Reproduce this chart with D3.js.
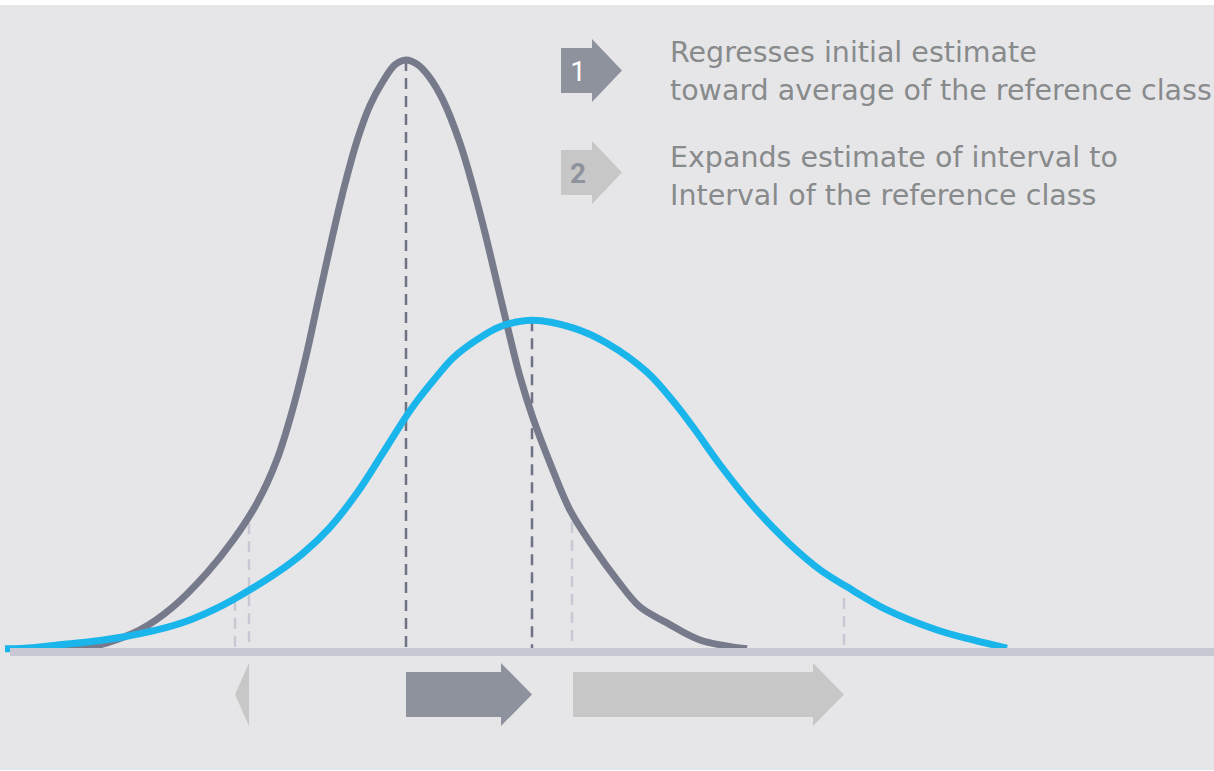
<!DOCTYPE html>
<html>
<head>
<meta charset="utf-8">
<script src="https://cdn.jsdelivr.net/npm/d3@7"></script>
<style>
  html, body { margin: 0; padding: 0; background: #ffffff; }
  svg { display: block; }
</style>
</head>
<body>
<svg id="chart" width="1214" height="771"></svg>
<script>
// Initial estimate distribution (narrow) — [value, density]
const estimateCurve = [
  [5.5, 0], [9.0, 0.5], [10.7, 1.2], [14.0, 3.4], [17.3, 7.3], [20.7, 13.1],
  [23.3, 18.6], [25.7, 24.9], [27.7, 32.3], [29.3, 41.0], [30.7, 50.5],
  [31.7, 58.3], [32.7, 66.0], [33.5, 72.0], [34.5, 79.0], [35.7, 86.3],
  [37.0, 92.3], [38.3, 96.4], [39.5, 99.2], [40.6, 100], [41.7, 99.3],
  [42.9, 97.2], [44.3, 93.2], [46.0, 85.9], [47.3, 78.5], [48.5, 70.7],
  [49.7, 62.2], [51.0, 53.0], [52.0, 46.3], [53.3, 39.3], [55.0, 31.7],
  [57.0, 23.7], [59.3, 17.5], [61.7, 11.9], [64.0, 7.3], [66.7, 4.6],
  [70.0, 1.7], [74.7, 0.2]
];

// Reference class distribution (wide) — [value, density]
const referenceCurve = [
  [0.5, 0.2], [3.3, 0.4], [6.7, 1.0], [9.0, 1.4], [12.3, 2.2], [15.7, 3.4],
  [19.0, 5.1], [22.3, 7.6], [25.0, 10.2], [27.7, 13.1], [30.3, 16.4],
  [33.0, 20.8], [35.7, 26.6], [38.3, 33.4], [40.5, 39.3], [41.7, 42.2],
  [43.3, 45.6], [45.3, 49.5], [47.7, 52.6], [50.0, 54.8], [53.3, 55.9],
  [57.3, 54.6], [60.7, 52.0], [64.7, 47.1], [67.3, 42.2], [69.3, 37.8],
  [72.0, 31.4], [75.3, 24.4], [78.7, 18.4], [82.0, 13.6], [84.7, 10.7],
  [88.7, 6.8], [93.7, 3.4], [97.3, 1.7], [100.7, 0.3]
];

// Means (dark dashed guides): [value, height]
const means = [[40.6, 100], [53.2, 55.9]];
// Interval bounds (light dashed guides): [value, height]
const bounds = [[23.5, 8.5], [24.9, 21.5], [57.2, 21.7], [84.4, 8.8]];

// Shift arrows under the axis: [from, to, kind]
const shifts = [[24.9, 23.5, "interval"], [40.6, 53.2, "mean"], [57.3, 84.4, "interval"]];

// Legend
const legendNumbers = ["1", "2"];
const legendKinds = ["mean", "interval"];
const legendLines = [
  ["Regresses initial estimate", "toward average of the reference class"],
  ["Expands estimate of interval to", "Interval of the reference class"]
];

const W = 1214, H = 771;
const svg = d3.select("#chart");

const x = d3.scaleLinear().domain([0, 120]).range([0, 1200]);
const y = d3.scaleLinear().domain([0, 100]).range([650, 60]);

const colors = {
  bg: "#e6e6e8",
  estimate: "#767a8a",
  reference: "#1ab5ea",
  axis: "#c8c8d4",
  meanGuide: "#6e7282",
  boundGuide: "#c8c8d4",
  mean: "#8e929c",
  interval: "#c7c7c7",
  text: "#888a8c"
};

svg.append("rect").attr("x", 0).attr("y", 5).attr("width", W).attr("height", H - 6)
  .attr("fill", colors.bg);

// dashed guides
svg.append("g").selectAll("line").data(bounds).join("line")
  .attr("x1", d => x(d[0])).attr("x2", d => x(d[0]))
  .attr("y1", d => y(d[1])).attr("y2", y(0))
  .attr("stroke", colors.boundGuide).attr("stroke-width", 2.5)
  .attr("stroke-dasharray", "11,7");

svg.append("g").selectAll("line").data(means).join("line")
  .attr("x1", d => x(d[0])).attr("x2", d => x(d[0]))
  .attr("y1", d => y(d[1])).attr("y2", y(0))
  .attr("stroke", colors.meanGuide).attr("stroke-width", 2.5)
  .attr("stroke-dasharray", "11,7");

// distributions
const line = d3.line().x(d => x(d[0])).y(d => y(d[1])).curve(d3.curveCatmullRom.alpha(0.5));

svg.append("path").datum(estimateCurve).attr("d", line)
  .attr("fill", "none").attr("stroke", colors.estimate).attr("stroke-width", 7)
  .attr("stroke-linejoin", "round");

svg.append("path").datum(referenceCurve).attr("d", line)
  .attr("fill", "none").attr("stroke", colors.reference).attr("stroke-width", 7)
  .attr("stroke-linejoin", "round");

// baseline axis
svg.append("rect").attr("x", 10).attr("y", 648).attr("width", W - 10).attr("height", 8)
  .attr("fill", colors.axis);

// block arrow path builder
function blockArrow(x0, x1, cy, bodyH, headH, headL) {
  const dir = x1 >= x0 ? 1 : -1;
  const len = Math.abs(x1 - x0);
  const hl = Math.min(headL, len);
  const xb = x1 - dir * hl;
  const p = d3.path();
  if (len > hl) {
    p.moveTo(x0, cy - bodyH / 2);
    p.lineTo(xb, cy - bodyH / 2);
    p.lineTo(xb, cy - headH / 2);
    p.lineTo(x1, cy);
    p.lineTo(xb, cy + headH / 2);
    p.lineTo(xb, cy + bodyH / 2);
    p.lineTo(x0, cy + bodyH / 2);
  } else {
    p.moveTo(xb, cy - headH / 2);
    p.lineTo(x1, cy);
    p.lineTo(xb, cy + headH / 2);
  }
  p.closePath();
  return p.toString();
}

svg.append("g").selectAll("path").data(shifts).join("path")
  .attr("d", d => blockArrow(x(d[0]), x(d[1]), 694.5, 45, 63, 31))
  .attr("fill", d => colors[d[2]]);

// legend
const legend = svg.append("g");
const rowY = [70.5, 172.5];
const textY = [62, 167];
legendNumbers.forEach((num, i) => {
  const cy = rowY[i];
  legend.append("path")
    .attr("d", blockArrow(561, 622, cy, 45, 63, 30))
    .attr("fill", colors[legendKinds[i]]);
  legend.append("text")
    .attr("x", 578).attr("y", cy + 10)
    .attr("text-anchor", "middle")
    .attr("font-family", "Roboto, sans-serif")
    .attr("font-size", 28)
    .attr("font-weight", i === 0 ? 400 : 700)
    .attr("fill", i === 0 ? "#ffffff" : colors.mean)
    .text(num);
  legendLines[i].forEach((t, j) => {
    legend.append("text")
      .attr("x", 670).attr("y", textY[i] + j * 38)
      .attr("font-family", "'DejaVu Sans', sans-serif")
      .attr("font-size", 28.5)
      .attr("fill", colors.text)
      .text(t);
  });
});
</script>
</body>
</html>
